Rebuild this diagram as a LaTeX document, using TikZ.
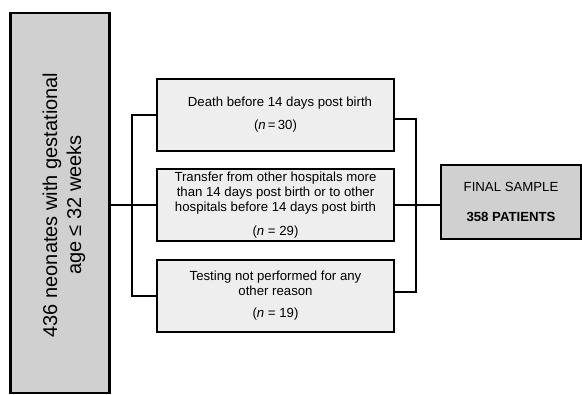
\documentclass[tikz,border=0pt]{standalone}
\usepackage{fontspec}
\setmainfont{Liberation Sans}
\begin{document}
\begin{tikzpicture}[x=1pt,y=-1pt,
  box/.style={draw=black,line width=2.2pt,inner sep=0pt,align=center},
  link/.style={draw=black,line width=1.8pt},
  txt/.style={font=\fontsize{13.2}{15}\selectfont}
]
\useasboundingbox (0,0) rectangle (582,395);
% left big box
\node[box,fill={rgb,255:red,208;green,208;blue,208},minimum width=99pt,minimum height=380pt] (total) at (60,203) {};
\node[rotate=90,align=center,font=\fontsize{20}{24}\selectfont] (totaltxt) at (64,205) {436 neonates with gestational\\age ≤ 32 weeks};
% middle boxes
\node[box,txt,fill={rgb,255:red,238;green,238;blue,238},minimum width=237pt,minimum height=72pt] (ex1) at (275.5,115)
  {\hspace*{9pt}Death before 14 days post birth\\[8pt](\textit{n}\,=\,30)};
\node[box,txt,fill={rgb,255:red,238;green,238;blue,238},minimum width=237pt,minimum height=72pt] (ex2) at (275.5,205)
  {Transfer from other hospitals more\\than 14 days post birth or to other\\hospitals before 14 days post birth\\[9pt](\textit{n} = 29)};
\node[box,txt,fill={rgb,255:red,238;green,238;blue,238},minimum width=237pt,minimum height=72pt] (ex3) at (275.5,296)
  {Testing not performed for any\\other reason\\[7pt](\textit{n} = 19)};
% final box
\node[box,txt,fill={rgb,255:red,208;green,208;blue,208},minimum width=140pt,minimum height=74pt] (final) at (511,202)
  {FINAL SAMPLE\\[15pt]\textbf{358 PATIENTS}};
% connectors
\coordinate (lb) at (132,205);
\coordinate (rb) at (416,205);
\draw[link] (total.east |- ex2.west) -- (ex2.west);
\draw[link] (ex1.west) -| (lb |- ex3.west) -- (ex3.west);
\draw[link] ([yshift=-4pt]ex1.east) -| ([yshift=4pt]rb |- ex3.east) -- ([yshift=4pt]ex3.east);
\draw[link] (ex2.east) -- (final.west |- ex2.east);
\end{tikzpicture}
\end{document}
